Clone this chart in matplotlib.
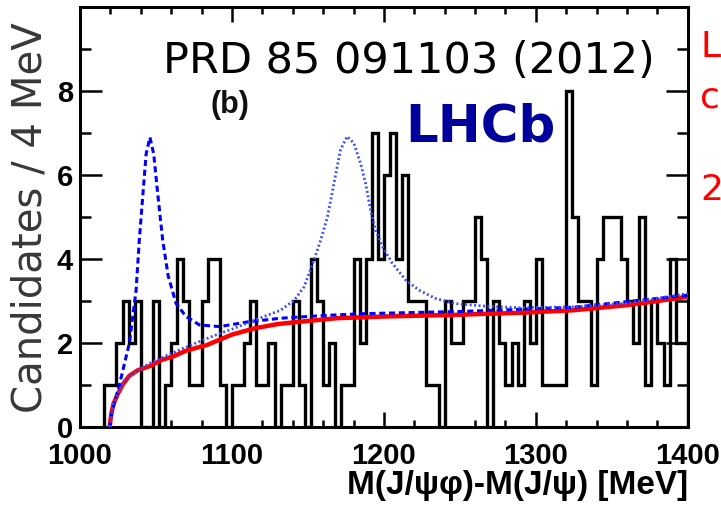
import numpy as np
import matplotlib
matplotlib.use("Agg")
import matplotlib.pyplot as plt
from matplotlib.ticker import MultipleLocator

# histogram: 4 MeV bins starting at 1016 MeV
bin_lo = 1016
bin_w = 4
counts = [1, 1, 2, 3, 2, 3, 0, 0, 3, 0,
          1, 2, 4, 3, 1, 1, 3, 4, 4, 1,
          0, 1, 1, 2, 3, 1, 1, 2, 0, 1,
          1, 3, 1, 0, 4, 3, 1, 2, 0, 1,
          1, 4, 2, 4, 7, 4, 6, 7, 4, 6,
          3, 3, 3, 1, 1, 0, 3, 2, 2, 3,
          3, 5, 4, 0, 3, 2, 1, 2, 1, 3,
          2, 4, 1, 1, 1, 1, 8, 5, 3, 3,
          1, 4, 5, 5, 5, 4, 3, 2, 5, 1,
          3, 2, 1, 4, 2, 2]

# background-only fit (red)
bkg_m = [1019.5, 1020.5, 1022, 1025, 1028.5, 1032.5, 1038, 1046, 1054, 1061.4,
         1070, 1083.4, 1092, 1100, 1115, 1130, 1143, 1169, 1200, 1247,
         1290, 1325, 1360, 1400]
bkg_y = [0.0, 0.3, 0.55, 0.8, 1.03, 1.22, 1.35, 1.45, 1.6, 1.68,
         1.82, 1.95, 2.08, 2.2, 2.35, 2.45, 2.5, 2.59, 2.63, 2.67,
         2.72, 2.78, 2.9, 3.1]

# fit with peak near threshold (blue dashed)
fit1_m = [1019.5, 1021, 1025.9, 1032.5, 1036.9, 1039, 1041.5, 1043.5, 1046, 1048.5,
          1051, 1054.4, 1058, 1063.2, 1069.8, 1078.6, 1091.8, 1110, 1132, 1154,
          1169, 1188, 1250, 1325, 1400]
fit1_y = [0.0, 0.35, 1.0, 2.0, 3.26, 4.45, 5.6, 6.5, 6.9, 6.5,
          5.6, 4.45, 3.6, 2.94, 2.63, 2.43, 2.39, 2.5, 2.59, 2.64,
          2.67, 2.7, 2.75, 2.85, 3.14]

# fit with second peak (blue dotted)
fit2_m = [1019.5, 1022, 1030, 1045, 1060, 1075, 1090, 1100, 1110, 1121,
          1132, 1141, 1147.5, 1154, 1158.4, 1162.8, 1165, 1168, 1171.4, 1175.8,
          1180.2, 1184.6, 1187.9, 1191.2, 1194.5, 1198.9, 1205.5, 1214.3, 1223, 1234,
          1247, 1265, 1290, 1325, 1360, 1400]
fit2_y = [0.0, 0.6, 1.15, 1.5, 1.75, 1.98, 2.2, 2.33, 2.47, 2.63,
          2.78, 3.02, 3.34, 3.98, 4.45, 5.0, 5.4, 5.97, 6.6, 6.92,
          6.76, 6.28, 5.81, 5.17, 4.69, 4.3, 3.9, 3.5, 3.26, 3.06,
          2.94, 2.88, 2.84, 2.86, 2.95, 3.18]

edges = bin_lo + bin_w * np.arange(len(counts) + 1)

fig = plt.figure(figsize=(7.21, 5.11), dpi=100)
ax = fig.add_axes([0.111, 0.1645, 0.843, 0.8215])

ax.stairs(counts, edges, color='black', linewidth=2.4, baseline=0)
ax.plot(bkg_m, bkg_y, color='red', linewidth=3.2, zorder=4)
ax.plot(fit1_m, fit1_y, color='#0000ff', linewidth=2.2, linestyle=(0, (2.0, 1.2)), zorder=5)
ax.plot(fit2_m, fit2_y, color='#3a4cff', linewidth=2.0, linestyle=(0, (0.7, 0.9)), zorder=5)

ax.set_xlim(1000, 1400)
ax.set_ylim(0, 10)
ax.xaxis.set_major_locator(MultipleLocator(100))
ax.xaxis.set_minor_locator(MultipleLocator(20))
ax.yaxis.set_minor_locator(MultipleLocator(1))
ax.set_yticks([0, 2, 4, 6, 8])
ax.tick_params(which='both', direction='in', top=True, right=True, width=1.8)
ax.tick_params(axis='y', which='major', length=16, pad=5)
ax.tick_params(axis='y', which='minor', length=8)
ax.tick_params(axis='x', which='major', length=11, pad=11)
ax.tick_params(axis='x', which='minor', length=5)
for lab in ax.get_xticklabels() + ax.get_yticklabels():
    lab.set_fontfamily('Liberation Sans')
    lab.set_fontweight('bold')
    lab.set_fontsize(21)
for sp in ax.spines.values():
    sp.set_linewidth(2.2)

fig.text(0.954, 0.049, 'M(J/ψφ)-M(J/ψ) [MeV]', ha='right', va='center',
         fontfamily='Liberation Sans', fontweight='bold', fontsize=24)
fig.text(0.042, 0.575, 'Candidates / 4 MeV', rotation=90, ha='center', va='center',
         fontfamily='DejaVu Sans', fontsize=29, color='#383838')

fig.text(409 / 721, 1 - 61 / 511, 'PRD 85 091103 (2012)', ha='center', va='center',
         fontfamily='DejaVu Sans', fontsize=31, color='black')
fig.text(480 / 721, 1 - 127 / 511, 'LHCb', ha='center', va='center',
         fontfamily='DejaVu Sans', fontweight='bold', fontsize=37, color='#00009a')
fig.text(230 / 721, 1 - 105 / 511, '(b)', ha='center', va='center',
         fontfamily='Liberation Sans', fontweight='bold', fontsize=22, color='#111111')

# text cut off by the right edge of the slide
for t, yy in [('L', 47), ('c', 97), ('2', 190)]:
    fig.text(700 / 721, 1 - yy / 511, t, ha='left', va='center',
             fontfamily='DejaVu Sans', fontsize=26, color='#ff0000')

fig.savefig('out.png', dpi=100)
